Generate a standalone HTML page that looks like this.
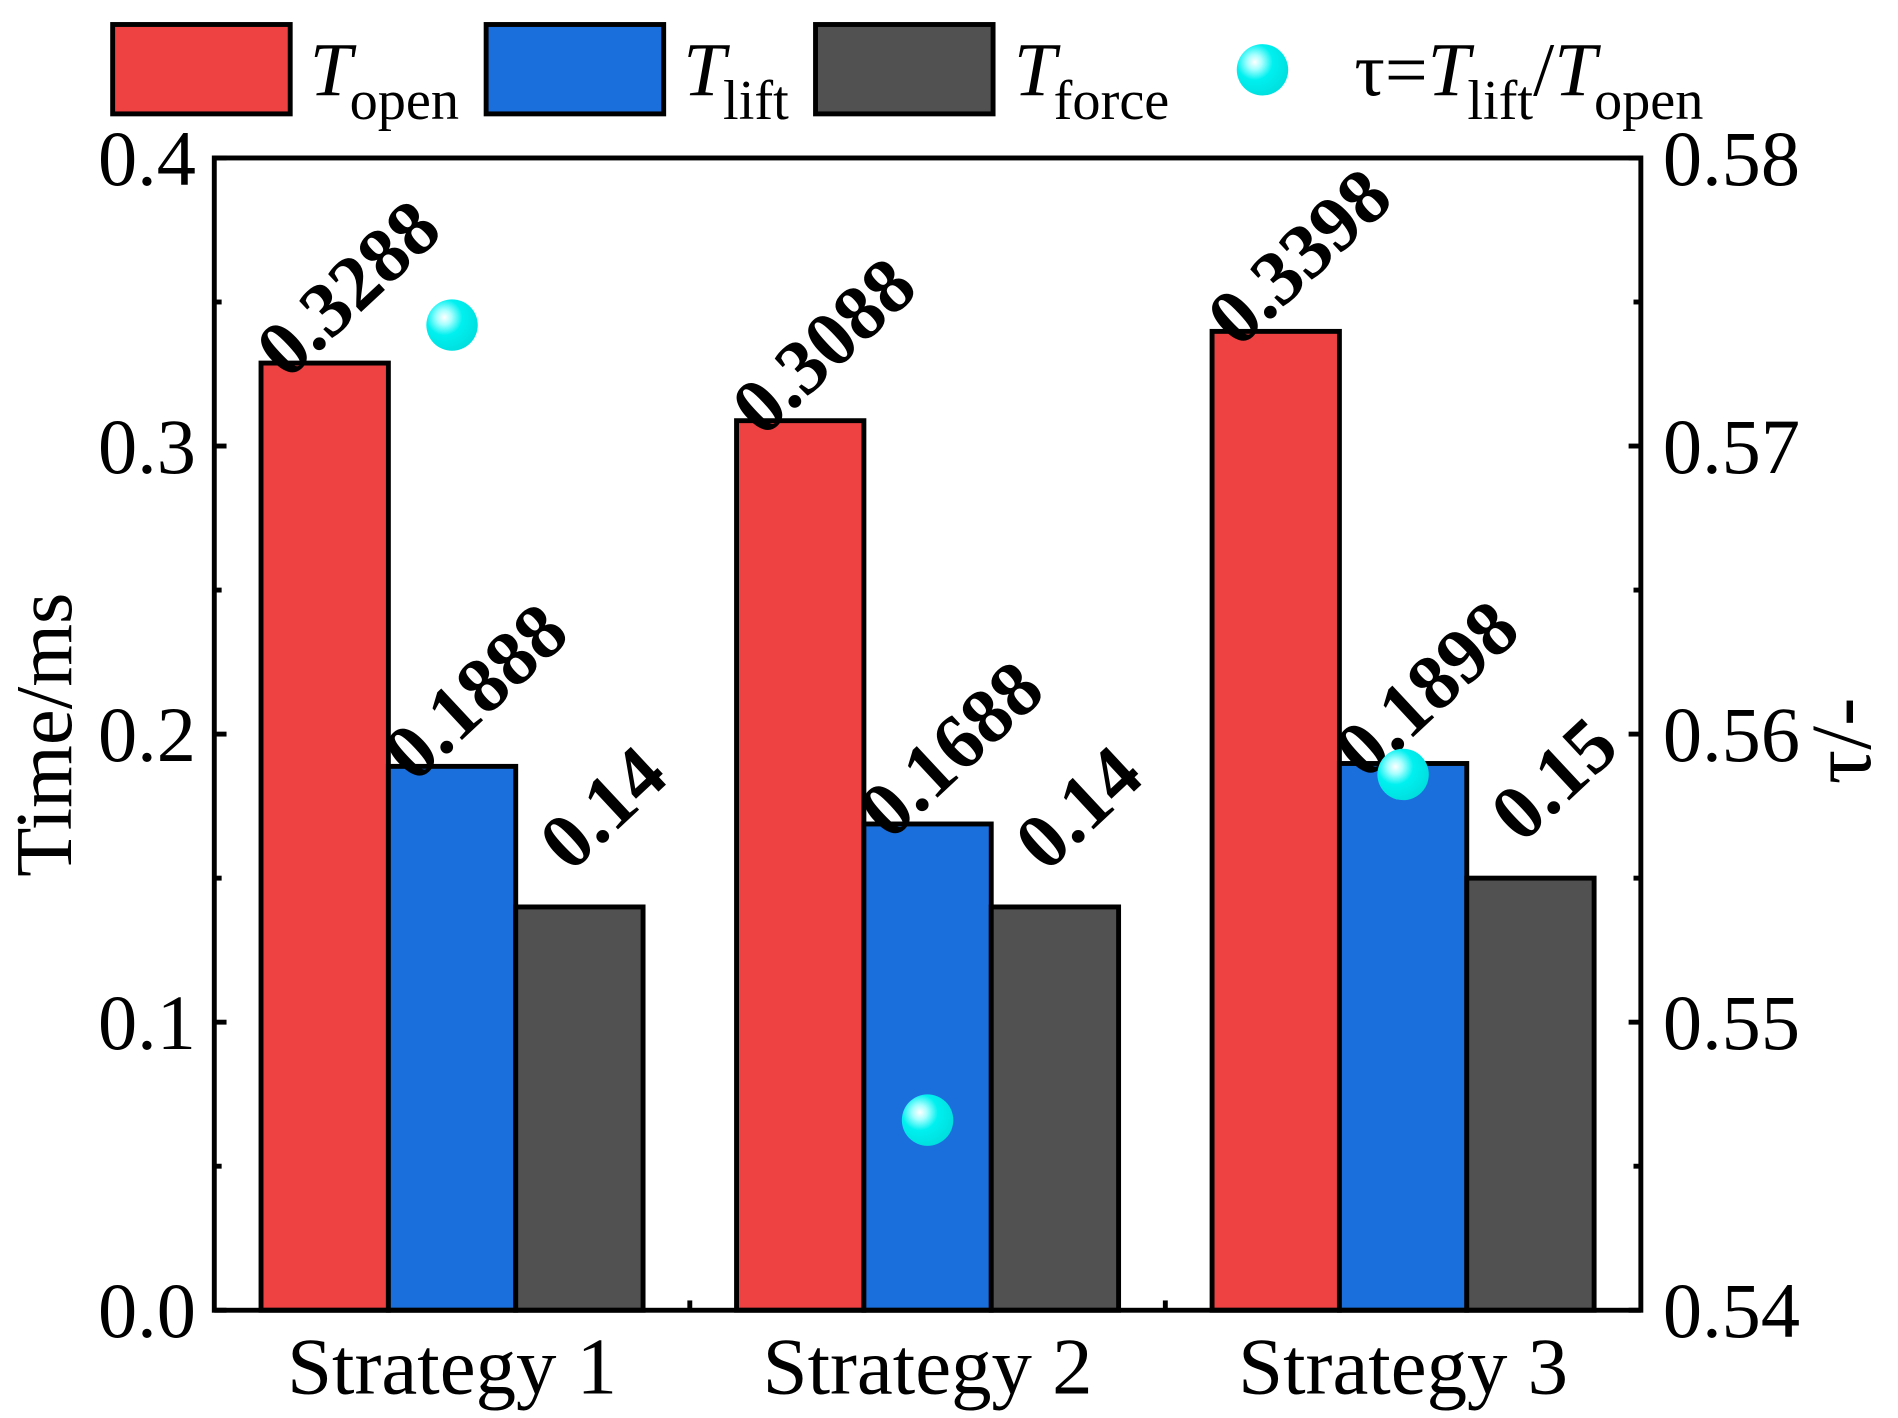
<!DOCTYPE html>
<html><head><meta charset="utf-8"><style>
html,body{margin:0;padding:0;background:#fff;}
svg{display:block;font-family:"Liberation Serif",serif;}
</style></head><body>
<svg id="chart" width="1898" height="1418" viewBox="0 0 1550 1158" xmlns="http://www.w3.org/2000/svg">
<defs>
<radialGradient id="ball" cx="0.35" cy="0.35" r="0.7">
<stop offset="0" stop-color="#ffffff"/><stop offset="0.2" stop-color="#aaffff"/><stop offset="0.5" stop-color="#00f0f0"/><stop offset="1" stop-color="#00dede"/>
</radialGradient>
</defs>
<g id="legend">
<rect x="92" y="20" width="145" height="73" fill="#ee4242" stroke="#000" stroke-width="4"/>
<text x="253" y="78" font-size="62"><tspan font-style="italic">T</tspan><tspan font-size="46" dy="19" dx="-2">open</tspan></text>
<rect x="397" y="20" width="145" height="73" fill="#1b6fdc" stroke="#000" stroke-width="4"/>
<text x="558" y="78" font-size="62"><tspan font-style="italic">T</tspan><tspan font-size="46" dy="19" dx="-2">lift</tspan></text>
<rect x="666" y="20" width="145" height="73" fill="#515151" stroke="#000" stroke-width="4"/>
<text x="828" y="78" font-size="62"><tspan font-style="italic">T</tspan><tspan font-size="46" dy="19" dx="-2">force</tspan></text>
<circle cx="1031" cy="57" r="21" fill="url(#ball)"/>
<text x="1106" y="78" font-size="62">τ=<tspan font-style="italic">T</tspan><tspan font-size="46" dy="19" dx="-2">lift</tspan><tspan dy="-19">/</tspan><tspan font-style="italic">T</tspan><tspan font-size="46" dy="19" dx="-2">open</tspan></text>
</g>
<g id="plot"></g>
<text transform="translate(58,600) rotate(-90)" text-anchor="middle" font-size="66">Time/ms</text>
<text transform="translate(1527,605) rotate(-90)" text-anchor="middle" font-size="70">τ/-</text>
</svg>
<script>
const categories = ["Strategy 1","Strategy 2","Strategy 3"];
const tOpen = [0.3288, 0.3088, 0.3398];
const tLift = [0.1888, 0.1688, 0.1898];
const tForce = [0.14, 0.14, 0.15];
const tOpenLabels = ["0.3288","0.3088","0.3398"];
const tLiftLabels = ["0.1888","0.1688","0.1898"];
const tForceLabels = ["0.14","0.14","0.15"];
const tau = [0.5742, 0.5466, 0.5586];
const leftTicks = ["0.0","0.1","0.2","0.3","0.4"];
const rightTicks = ["0.54","0.55","0.56","0.57","0.58"];

const NS="http://www.w3.org/2000/svg";
const L=175,R=1340,T=129,B=1070;
const y=v=>B-(v/0.4)*(B-T);
const y2=v=>B-((v-0.54)/0.04)*(B-T);
const band=(R-L)/categories.length;
const xc=i=>L+band*(i+0.5);
const bw=104;
const g=document.getElementById('plot');
function mk(tag,attrs,parent){const e=document.createElementNS(NS,tag);for(const k in attrs)e.setAttribute(k,attrs[k]);(parent||g).appendChild(e);return e;}
const series=[[tOpen,"#ee4242",tOpenLabels,"topen"],[tLift,"#1b6fdc",tLiftLabels,"tlift"],[tForce,"#515151",tForceLabels,"tforce"]];
categories.forEach((c,i)=>{
  series.forEach((s,j)=>{
    const x0=xc(i)-1.5*bw+j*bw, v=s[0][i];
    const r=mk('rect',{x:x0,y:y(v),width:bw,height:B-y(v),fill:s[1],stroke:'#000','stroke-width':4});
    
    
    const len=s[2][i].length;
    const cx=x0+bw/2+20, cy=y(v)-60-(6-len)*10;
    const t=mk('text',{x:cx,y:cy+20,'text-anchor':'middle','font-size':64,'font-weight':'bold',transform:`rotate(-43 ${cx} ${cy})`});
    t.textContent=s[2][i];
    
    
  });
  const lbl=mk('text',{x:xc(i),y:1138,'text-anchor':'middle','font-size':66});
  lbl.textContent=c;
  
  
});
const fr=mk('rect',{x:L,y:T,width:R-L,height:B-T,fill:'none',stroke:'#000','stroke-width':4});


leftTicks.forEach((t,k)=>{
  const v=k*0.1, yy=y(v);
  mk('line',{x1:L,x2:L+10,y1:yy,y2:yy,stroke:'#000','stroke-width':4});
  if(k<4){const ym=y(v+0.05);mk('line',{x1:L,x2:L+6,y1:ym,y2:ym,stroke:'#000','stroke-width':4});}
  const e=mk('text',{x:L-15,y:yy+22,'text-anchor':'end','font-size':64});
  e.textContent=t;
  
  
});
rightTicks.forEach((t,k)=>{
  const v=0.54+k*0.01, yy=y2(v);
  mk('line',{x1:R-10,x2:R,y1:yy,y2:yy,stroke:'#000','stroke-width':4});
  if(k<4){const ym=y2(v+0.005);mk('line',{x1:R-6,x2:R,y1:ym,y2:ym,stroke:'#000','stroke-width':4});}
  const e=mk('text',{x:R+18,y:yy+22,'text-anchor':'start','font-size':64});
  e.textContent=t;
  
  
});
for(let i=1;i<categories.length;i++){const xx=L+band*i;mk('line',{x1:xx,x2:xx,y1:B,y2:B-8,stroke:'#000','stroke-width':4});}
tau.forEach((v,i)=>{
  const c=mk('circle',{cx:xc(i),cy:y2(v),r:21,fill:'url(#ball)'});
  
  
});
</script>
</body></html>
